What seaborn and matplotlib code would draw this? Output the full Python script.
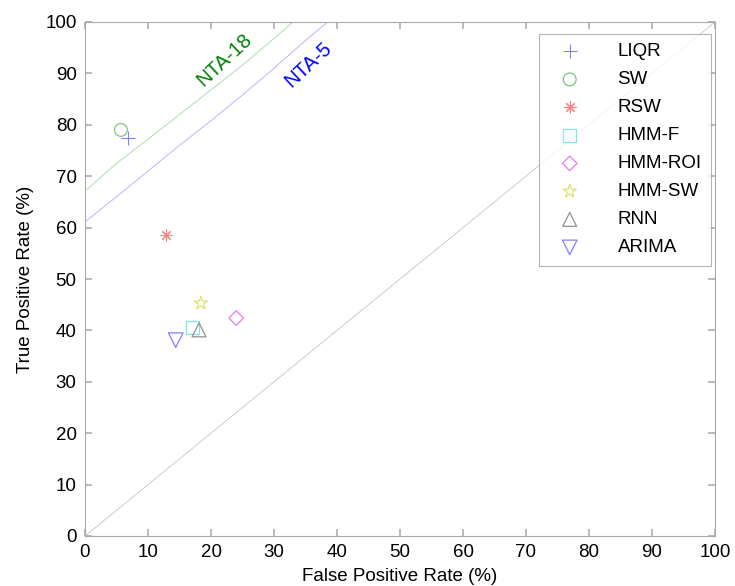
import matplotlib
matplotlib.use("Agg")
import matplotlib.pyplot as plt
import seaborn as sns
import numpy as np
import pandas as pd

methods = ["LIQR", "SW", "RSW", "HMM-F", "HMM-ROI", "HMM-SW", "RNN", "ARIMA"]
fpr = [6.8, 5.7, 12.9, 17.1, 24.0, 18.4, 18.1, 14.4]
tpr = [77.4, 79.0, 58.6, 40.5, 42.4, 45.3, 40.1, 38.1]

nta18_fpr = [0, 5, 10, 15, 20, 25, 30, 33]
nta18_tpr = [67.1, 72.5, 77.2, 82.0, 86.8, 91.6, 96.8, 100]
nta5_fpr = [0, 5, 10, 15, 20, 25, 30, 35, 38.5]
nta5_tpr = [61.1, 66.0, 71.0, 76.0, 80.8, 85.8, 91.0, 96.4, 100]
diag = [0, 100]

markers = ["+", "o", (8, 2, 0), "s", "D", "*", "^", "v"]
colors = ["#8080ff", "#7fc47f", "#ff8080", "#7fe6e6", "#e67fe6", "#e0e070", "#909090", "#8080ff"]
lineart = [True, False, True, False, False, False, False, False]
sizes = [90, 85, 65, 85, 55, 100, 100, 110]

sns.set_theme(style="white")
plt.rcParams['font.family'] = ['Liberation Sans', 'DejaVu Sans']
plt.rcParams['text.color'] = 'black'
plt.rcParams['axes.labelcolor'] = 'black'
plt.rcParams['xtick.color'] = 'black'
plt.rcParams['ytick.color'] = 'black'

fig = plt.figure(figsize=(7.35, 5.86), dpi=100)
ax = fig.add_axes([85/735, 50/586, 630/735, 514/586])

sns.lineplot(x=diag, y=diag, ax=ax, color="#c0c0c0", lw=0.55)
sns.lineplot(x=nta18_fpr, y=nta18_tpr, ax=ax, color="#b0dcb0", lw=0.7)
sns.lineplot(x=nta5_fpr, y=nta5_tpr, ax=ax, color="#b8b8ff", lw=0.7)

for m, x, y, mk, c, la, s in zip(methods, fpr, tpr, markers, colors, lineart, sizes):
    df = pd.DataFrame({"x": [x], "y": [y]})
    if la:
        sns.scatterplot(data=df, x="x", y="y", ax=ax, marker=mk, color=c,
                        s=s, linewidth=0.8, label=m)
    else:
        sns.scatterplot(data=df, x="x", y="y", ax=ax, marker=mk, facecolors="none",
                        edgecolor=c, s=s, linewidth=0.9, label=m)

ax.set_xlim(0, 100)
ax.set_ylim(0, 100)
ax.set_xticks(range(0, 101, 10))
ax.set_yticks(range(0, 101, 10))
ax.tick_params(direction="in", length=5, color="#b0b0b0", labelcolor="black",
               labelsize=13.5, top=True, right=True, bottom=True, left=True, pad=6)
for sp in ax.spines.values():
    sp.set_color("#a8a8a8")
    sp.set_linewidth(0.8)
ax.set_xlabel("False Positive Rate (%)", fontsize=13.5, labelpad=5, color="black")
ax.set_ylabel("True Positive Rate (%)", fontsize=13.5, labelpad=8, color="black")

ax.text(22.2, 92.6, "NTA-18", color="#008000", fontsize=14.5, rotation=43,
        ha="center", va="center")
ax.text(35.4, 91.6, "NTA-5", color="#0000ff", fontsize=14.5, rotation=43,
        ha="center", va="center")

leg = ax.legend(loc="upper right", bbox_to_anchor=(0.9937, 0.977), fontsize=13.5,
                frameon=True, fancybox=False, borderpad=0.5, labelspacing=0.58,
                handletextpad=1.4, borderaxespad=0.0, handlelength=2.3)
leg.get_frame().set_edgecolor("#a0a0a0")
leg.get_frame().set_linewidth(0.8)
for t in leg.get_texts():
    t.set_color("black")

fig.savefig("out.png", dpi=100)
